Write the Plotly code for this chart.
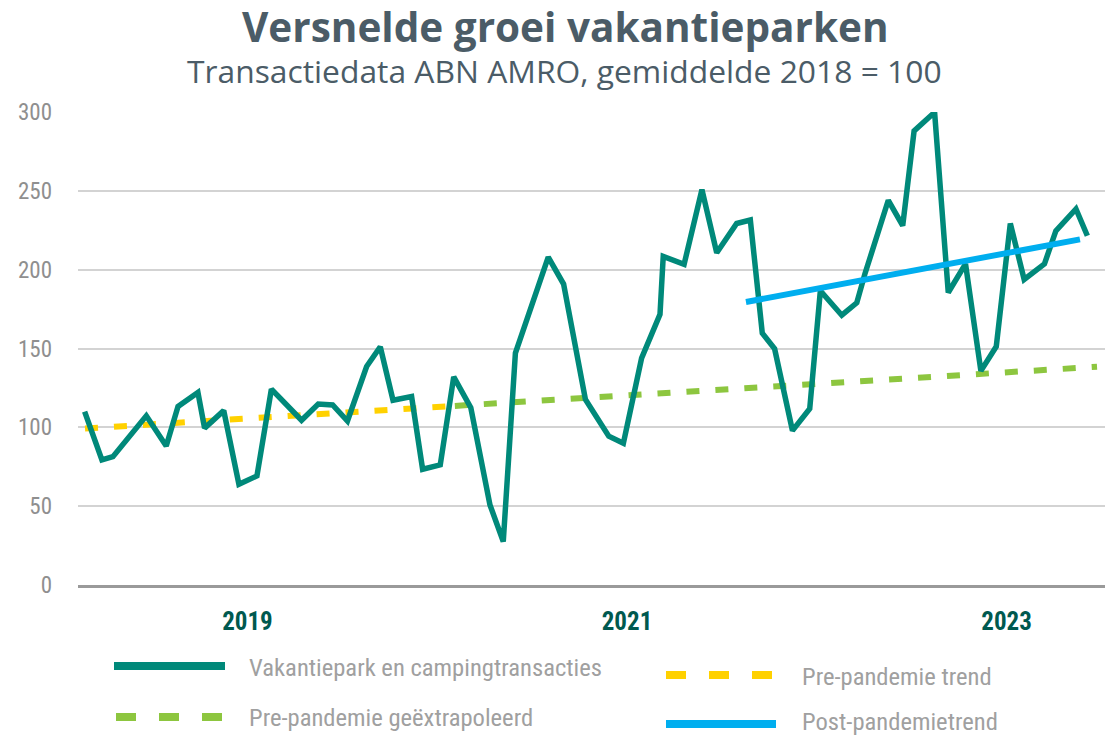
import plotly.graph_objects as go

# ---- data (x in decimal years, y index 2018 = 100) ----
periode = [2018.142, 2018.233, 2018.291, 2018.467, 2018.572, 2018.634, 2018.739, 2018.774,
           2018.875, 2018.955, 2019.050, 2019.126, 2019.285, 2019.373, 2019.449, 2019.527,
           2019.628, 2019.700, 2019.767, 2019.865, 2019.923, 2020.016, 2020.087, 2020.177,
           2020.278, 2020.348, 2020.412, 2020.585, 2020.666, 2020.781, 2020.904, 2020.981,
           2021.077, 2021.174, 2021.191, 2021.301, 2021.395, 2021.473, 2021.578, 2021.650,
           2021.713, 2021.778, 2021.872, 2021.963, 2022.019, 2022.132, 2022.211, 2022.254,
           2022.377, 2022.453, 2022.513, 2022.621, 2022.693, 2022.784, 2022.865, 2022.946,
           2023.020, 2023.093, 2023.200, 2023.260, 2023.366, 2023.426]
transacties = [110.0, 79.3, 81.4, 107.3, 88.2, 113.2, 122.1, 99.5,
               110.6, 63.9, 69.2, 124.2, 104.5, 114.8, 114.2, 104.0,
               138.6, 151.1, 117.2, 119.5, 73.4, 76.2, 132.0, 112.5,
               50.8, 27.5, 147.1, 207.9, 190.9, 117.6, 94.4, 89.9,
               143.9, 171.7, 208.4, 203.4, 250.7, 210.7, 229.3, 231.5,
               159.7, 149.8, 97.9, 111.8, 186.6, 171.1, 179.0, 197.4,
               244.0, 227.9, 288.0, 299.8, 185.5, 203.7, 135.8, 151.3,
               229.3, 193.8, 203.7, 224.6, 238.5, 221.5]

pre_trend_x = [2018.144, 2020.093]
pre_trend_y = [99.3, 113.6]
extrap_x = [2020.093, 2023.477]
extrap_y = [113.6, 138.4]
post_trend_x = [2021.627, 2023.387]
post_trend_y = [179.5, 219.2]

y_ticks = [0, 50, 100, 150, 200, 250, 300]
x_tickvals = [2019, 2021, 2023]
x_ticktext = ["2019", "2021", "2023"]

legend_names = ["Vakantiepark en campingtransacties", "Pre-pandemie trend",
                "Pre-pandemie geëxtrapoleerd", "Post-pandemietrend"]

TEAL = "#00897A"
YELLOW = "#FFD100"
LIME = "#8DC63F"
BLUE = "#00AEEF"
NARROW = "Liberation Sans Narrow, Roboto Condensed, Arial Narrow, Roboto, sans-serif"

W, H = 1119, 737
L, R, T, B = 78, 14, 112, 152

fig = go.Figure()
fig.add_trace(go.Scatter(x=pre_trend_x, y=pre_trend_y, mode="lines",
                         line=dict(color=YELLOW, width=6, dash="13px,16px"),
                         name=legend_names[1], showlegend=False))
fig.add_trace(go.Scatter(x=extrap_x, y=extrap_y, mode="lines",
                         line=dict(color=LIME, width=6, dash="13px,16px"),
                         name=legend_names[2], showlegend=False))
fig.add_trace(go.Scatter(x=periode, y=transacties, mode="lines",
                         line=dict(color=TEAL, width=5.5),
                         name=legend_names[0], showlegend=False))
fig.add_trace(go.Scatter(x=post_trend_x, y=post_trend_y, mode="lines",
                         line=dict(color=BLUE, width=6),
                         name=legend_names[3], showlegend=False))


def px(xp):
    return (xp - L) / (W - L - R)


def py(yp):
    return (H - B - yp) / (H - T - B)


# custom legend
leg = [
    (114, 225, 666, TEAL, "solid", 247, 667, legend_names[0]),
    (666, 772, 675, YELLOW, "20px,23px", 800, 676, legend_names[1]),
    (116, 222, 717, LIME, "20px,23px", 247, 717, legend_names[2]),
    (666, 776, 724, BLUE, "solid", 800, 721, legend_names[3]),
]
shapes = []
annotations = []
for x0, x1, yy, col, dash, tx, ty, name in leg:
    shapes.append(dict(type="line", xref="paper", yref="paper",
                       x0=px(x0), x1=px(x1), y0=py(yy), y1=py(yy),
                       line=dict(color=col, width=8, dash=dash)))
    annotations.append(dict(xref="paper", yref="paper", x=px(tx), y=py(ty),
                            xanchor="left", yanchor="middle", showarrow=False,
                            text=name, font=dict(family=NARROW, size=24.6, color="#a0a0a0")))

annotations.append(dict(xref="paper", yref="paper", x=px(565), y=py(27),
                        xanchor="center", yanchor="middle", showarrow=False,
                        text="<b>Versnelde groei vakantieparken</b>",
                        font=dict(family="Open Sans, Noto Sans, sans-serif", size=40.5, color="#4b5c67")))
annotations.append(dict(xref="paper", yref="paper", x=px(564), y=py(71),
                        xanchor="center", yanchor="middle", showarrow=False,
                        text="Transactiedata ABN AMRO, gemiddelde 2018 = 100",
                        font=dict(family="Open Sans, Noto Sans, sans-serif", size=31.8, color="#4b5c67")))

fig.update_layout(
    width=W, height=H,
    margin=dict(l=L, r=R, t=T, b=B, pad=0),
    paper_bgcolor="white", plot_bgcolor="white",
    shapes=shapes, annotations=annotations,
    showlegend=False,
)
fig.update_xaxes(range=[2018.107, 2023.519], showgrid=False, zeroline=False,
                 tickvals=x_tickvals, ticktext=x_ticktext, ticks="",
                 showline=True, linecolor="#9a9a9a", linewidth=3,
                 ticklabelstandoff=12,
                 tickfont=dict(family=NARROW, size=25, color="#00594f", weight="bold"))
fig.update_yaxes(range=[0, 300], tickvals=y_ticks, showgrid=True, gridcolor="#d3d3d3",
                 gridwidth=1.5, zeroline=False, showline=False, ticks="",
                 ticklabelstandoff=25,
                 tickfont=dict(family=NARROW, size=23, color="#8f8f8f"))

fig.write_html("out.html")
